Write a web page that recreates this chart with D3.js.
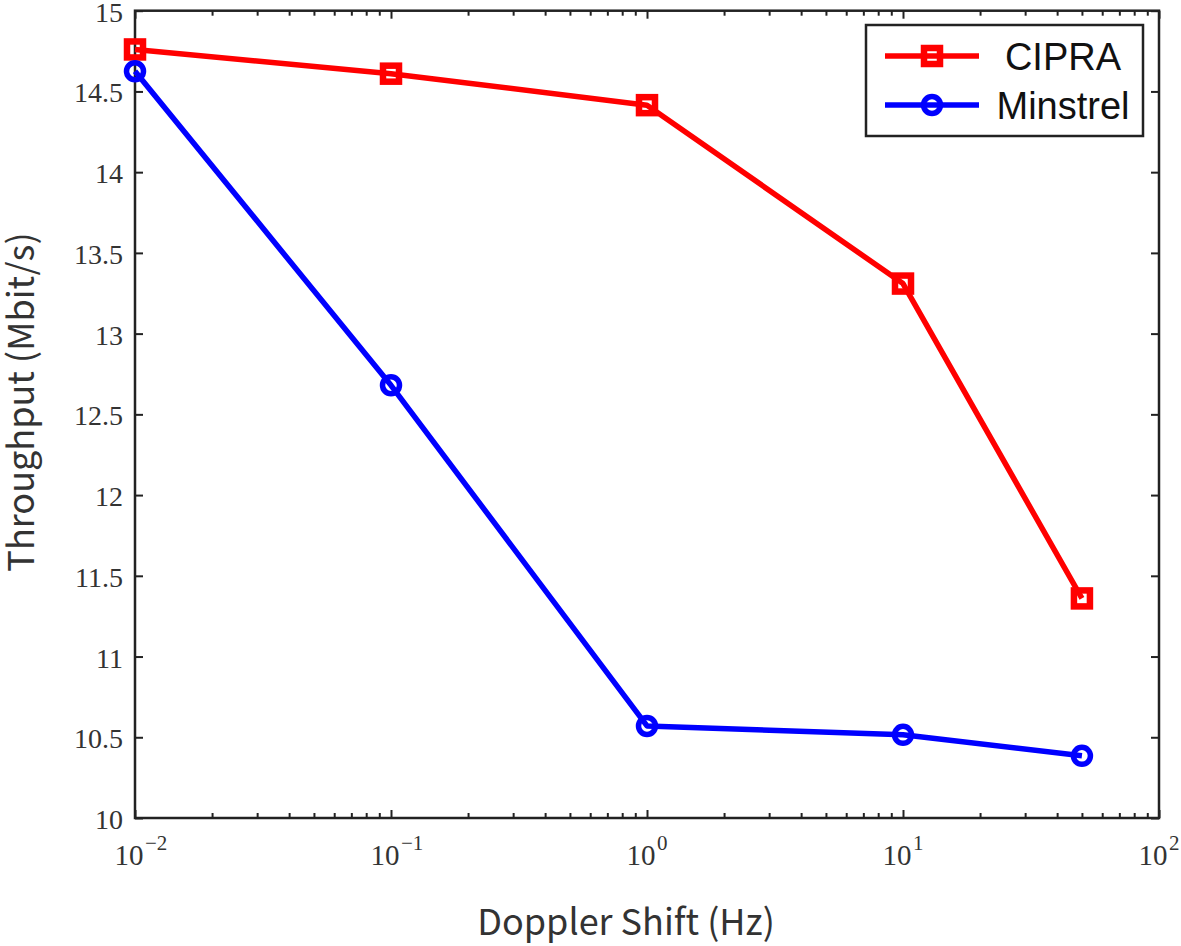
<!DOCTYPE html>
<html><head><meta charset="utf-8">
<script src="https://cdn.jsdelivr.net/npm/d3@7"></script>
<style>body{margin:0;background:#fff}</style>
</head><body>
<svg id="c" width="1181" height="946"></svg>
<script>
const doppler = [0.01, 0.1, 1, 10, 50];
const cipra = [14.76, 14.61, 14.415, 13.31, 11.36];
const minstrel = [14.625, 12.68, 10.57, 10.515, 10.385];
const seriesNames = ["CIPRA", "Minstrel"];
const yTicks = [10, 10.5, 11, 11.5, 12, 12.5, 13, 13.5, 14, 14.5, 15];
const xTicks = [0.01, 0.1, 1, 10, 100];
const xTickExp = ["\u22122", "\u22121", "0", "1", "2"];

const SERIF = "'Liberation Serif', 'DejaVu Serif', 'Times New Roman', serif";
const SANS = "'Noto Sans CJK SC', 'Open Sans', sans-serif";
const svg = d3.select("#c");
const L = 135, R = 1159, T = 10.7, B = 818;
const x = d3.scaleLog().domain([0.01, 100]).range([L, R]);
const y = d3.scaleLinear().domain([10, 15]).range([B, T]);

const minor = [];
for (let e = -2; e < 2; e++) for (let k = 2; k <= 9; k++) minor.push(k * Math.pow(10, e));

const g = svg.append("g");
const axB = d3.axisBottom(x).tickValues(minor).tickSizeInner(-5).tickSizeOuter(0).tickFormat("");
const axBM = d3.axisBottom(x).tickValues(xTicks).tickSizeInner(-8).tickSizeOuter(0).tickFormat("");
const axT = d3.axisTop(x).tickValues(minor).tickSizeInner(-5).tickSizeOuter(0).tickFormat("");
const axTM = d3.axisTop(x).tickValues(xTicks).tickSizeInner(-8).tickSizeOuter(0).tickFormat("");
const axL = d3.axisLeft(y).tickValues(yTicks).tickSizeInner(-8).tickSizeOuter(0).tickFormat("");
const axR = d3.axisRight(y).tickValues(yTicks).tickSizeInner(-8).tickSizeOuter(0).tickFormat("");
[[axB, `translate(0,${B})`], [axBM, `translate(0,${B})`], [axT, `translate(0,${T})`], [axTM, `translate(0,${T})`],
 [axL, `translate(${L},0)`], [axR, `translate(${R},0)`]].forEach(([a, t]) => {
  const gg = g.append("g").attr("transform", t).call(a);
  gg.selectAll("line").attr("stroke", "#222").attr("stroke-width", 2);
  gg.select(".domain").remove();
});
g.append("rect").attr("x", L).attr("y", T).attr("width", R - L).attr("height", B - T)
  .attr("fill", "none").attr("stroke", "#222").attr("stroke-width", 2.5);

g.selectAll(".yl").data(yTicks).join("text")
  .attr("x", L - 12).attr("y", d => y(d) + 11)
  .attr("text-anchor", "end")
  .style("font-family", SERIF).attr("font-size", 28).attr("fill", "#333")
  .text(d => d);

xTicks.forEach((v, i) => {
  g.append("text").attr("x", x(v) - 6).attr("y", 865)
    .attr("text-anchor", "middle")
    .style("font-family", SERIF).attr("font-size", 29).attr("fill", "#333").text("10");
  g.append("text").attr("x", x(v) + 10).attr("y", 850)
    .attr("text-anchor", "start")
    .style("font-family", SERIF).attr("font-size", 21).attr("fill", "#333").text(xTickExp[i]);
});

svg.append("text").attr("x", 626).attr("y", 935).attr("text-anchor", "middle")
  .style("font-family", SANS).attr("font-size", 36).attr("fill", "#333")
  .text("Doppler Shift (Hz)");
svg.append("text").attr("transform", "translate(34,402) rotate(-90)").attr("text-anchor", "middle")
  .style("font-family", SANS).attr("font-size", 36).attr("fill", "#333")
  .text("Throughput (Mbit/s)");

const line = d3.line().x((d, i) => x(doppler[i])).y(d => y(d));
const colors = ["#ff0000", "#0000ff"];
const data = [cipra, minstrel];
data.forEach((s, k) => {
  svg.append("path").datum(s).attr("d", line).attr("fill", "none")
    .attr("stroke", colors[k]).attr("stroke-width", 5.5).attr("stroke-linejoin", "round");
});
svg.selectAll(".sq").data(cipra).join("rect")
  .attr("x", (d, i) => x(doppler[i]) - 8).attr("y", d => y(d) - 8)
  .attr("width", 16).attr("height", 16).attr("fill", "none")
  .attr("stroke", colors[0]).attr("stroke-width", 6.5);
svg.selectAll(".ci").data(minstrel).join("circle")
  .attr("cx", (d, i) => x(doppler[i])).attr("cy", d => y(d)).attr("r", 8.5)
  .attr("fill", "none").attr("stroke", colors[1]).attr("stroke-width", 5.5);

const lg = svg.append("g");
lg.append("rect").attr("x", 866).attr("y", 25).attr("width", 277).attr("height", 111)
  .attr("fill", "#fff").attr("stroke", "#222").attr("stroke-width", 2.5);
[56, 105].forEach((yy, k) => {
  lg.append("line").attr("x1", 885).attr("x2", 979).attr("y1", yy).attr("y2", yy)
    .attr("stroke", colors[k]).attr("stroke-width", 5.5);
  if (k === 0) lg.append("rect").attr("x", 932 - 8).attr("y", yy - 8).attr("width", 16).attr("height", 16)
    .attr("fill", "none").attr("stroke", colors[0]).attr("stroke-width", 6.5);
  else lg.append("circle").attr("cx", 932).attr("cy", yy).attr("r", 8.5)
    .attr("fill", "none").attr("stroke", colors[1]).attr("stroke-width", 5.5);
  lg.append("text").attr("x", 1063).attr("y", yy + 14).attr("text-anchor", "middle")
    .style("font-family", "'Liberation Sans', Arial, sans-serif").attr("font-size", 38).attr("fill", "#111")
    .text(seriesNames[k]);
});
</script>
</body></html>
